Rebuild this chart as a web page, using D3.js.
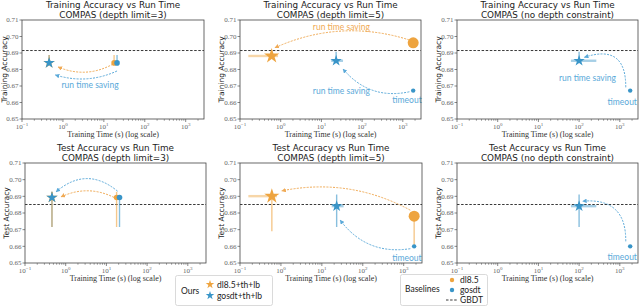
<!DOCTYPE html>
<html>
<head>
<meta charset="utf-8">
<script src="https://cdn.jsdelivr.net/npm/d3@7"></script>
<style>
  body { margin: 0; background: #fff; }
  svg { display: block; }
</style>
</head>
<body>
<svg id="chart" width="640" height="306"></svg>
<script>

// DATA ––––––––––––––––––––––––––––––––––––––––––––––––––––––––––––––

var xTickValues = [0.1, 1, 10, 100, 1000];
var xTickExponents = ["\u22121", "0", "1", "2", "3"];
var yTickValues = [0.65, 0.66, 0.67, 0.68, 0.69, 0.70, 0.71];

var rowTitles = ["Training Accuracy vs Run Time", "Test Accuracy vs Run Time"];
var colSubtitles = ["COMPAS (depth limit=3)", "COMPAS (depth limit=5)", "COMPAS (no depth constraint)"];
var rowYLabels = ["Training Accuracy", "Test Accuracy"];
var xLabel = "Training Time (s) (log scale)";

// GBDT reference accuracy, [train, test]
var gbdtAccuracy = [0.6915, 0.6851];

// [method, time (s), accuracy, accLow, accHigh, timeLow, timeHigh]
var trainDepth3 = [
  ["dl8.5+th+lb", 0.46, 0.684, 0.684, 0.6888, null, null],
  ["gosdt+th+lb", 0.46, 0.684, 0.684, 0.6888, null, null],
  ["dl8.5", 17.8, 0.684, 0.684, 0.6888, null, null],
  ["gosdt", 21, 0.684, 0.684, 0.6888, null, null]
];
var trainDepth5 = [
  ["dl8.5+th+lb", 0.6, 0.6882, null, null, 0.16, 0.86],
  ["dl8.5", 1800, 0.6962, null, null, null, null],
  ["gosdt+th+lb", 23, 0.6853, 0.6853, 0.6908, 17.4, 34],
  ["gosdt", 1800, 0.6672, null, null, null, null]
];
var trainNoDepth = [
  ["gosdt+th+lb", 100, 0.6853, 0.6853, 0.6908, 63, 265],
  ["gosdt", 1800, 0.6672, null, null, null, null]
];
var testDepth3 = [
  ["dl8.5+th+lb", 0.46, 0.6893, 0.6716, 0.6927, null, null],
  ["gosdt+th+lb", 0.46, 0.6893, 0.6716, 0.6927, null, null],
  ["dl8.5", 17.8, 0.6893, 0.6716, 0.6927, null, null],
  ["gosdt", 21, 0.6893, 0.6716, 0.6907, null, null]
];
var testDepth5 = [
  ["dl8.5+th+lb", 0.6, 0.6901, 0.669, 0.6901, 0.16, 0.8],
  ["dl8.5", 1800, 0.6781, 0.66, 0.6781, null, null],
  ["gosdt+th+lb", 23, 0.6841, 0.6716, 0.6911, 17.4, 34],
  ["gosdt", 1800, 0.66, null, null, null, null]
];
var testNoDepth = [
  ["gosdt+th+lb", 100, 0.6841, 0.6716, 0.6911, 63, 265],
  ["gosdt", 1800, 0.66, null, null, null, null]
];

// run time saving arrows: [family, fromTime, fromAcc, toTime, toAcc]
var trainDepth3Arrows = [["dl8.5", 16.8, 0.6833, 0.76, 0.6815], ["gosdt", 21, 0.6791, 0.65, 0.6767]];
var trainDepth5Arrows = [["dl8.5", 1450, 0.6979, 0.72, 0.6932], ["gosdt", 1450, 0.6665, 34, 0.6803]];
var trainNoDepthArrows = [["gosdt", 1400, 0.6692, 135, 0.6874]];
var testDepth3Arrows = [["gosdt", 18.8, 0.6931, 0.58, 0.6927], ["dl8.5", 15.5, 0.6893, 0.77, 0.6897]];
var testDepth5Arrows = [["dl8.5", 1450, 0.6817, 1.05, 0.6933], ["gosdt", 1450, 0.6586, 28, 0.6757]];
var testNoDepthArrows = [["gosdt", 1400, 0.663, 122, 0.6871]];

// text notes: [family, time, acc, text]
var trainDepth3Notes = [["gosdt", 4.6, 0.6706, "run time saving"]];
var trainDepth5Notes = [["dl8.5", 31, 0.7059, "run time saving"], ["gosdt", 31, 0.6672, "run time saving"], ["gosdt", 1270, 0.6615, "timeout"]];
var trainNoDepthNotes = [["gosdt", 160, 0.6747, "run time saving"], ["gosdt", 1150, 0.6605, "timeout"]];
var testDepth3Notes = [];
var testDepth5Notes = [["gosdt", 1200, 0.6532, "timeout"]];
var testNoDepthNotes = [["gosdt", 1150, 0.6536, "timeout"]];

var oursLabels = ["dl8.5+th+lb", "gosdt+th+lb"];
var baselineLabels = ["dl8.5", "gosdt", "GBDT"];


// LAYOUT / STYLE ––––––––––––––––––––––––––––––––––––––––––––––––––––

var orange = "#eea43f", blue = "#3995c8";
var arrowColor = {"dl8.5": "#f0aa55", "gosdt": "#5aa9d9"};
var familyOf = function(m) { return m.indexOf("dl8.5") === 0 ? "dl8.5" : "gosdt"; };
var colorOf = function(m) { return familyOf(m) === "dl8.5" ? orange : blue; };

var panels = [
  {row: 0, col: 0, x0: 22, x1: 204, points: trainDepth3, arrows: trainDepth3Arrows, notes: trainDepth3Notes, bends: [0.24, 0.19]},
  {row: 0, col: 1, x0: 240, x1: 421, points: trainDepth5, arrows: trainDepth5Arrows, notes: trainDepth5Notes, bends: [-0.19, 0.3]},
  {row: 0, col: 2, x0: 457, x1: 638, points: trainNoDepth, arrows: trainNoDepthArrows, notes: trainNoDepthNotes, bends: [-0.7]},
  {row: 1, col: 0, x0: 25, x1: 206, points: testDepth3, arrows: testDepth3Arrows, notes: testDepth3Notes, bends: [-0.42, -0.24]},
  {row: 1, col: 1, x0: 240, x1: 422, points: testDepth5, arrows: testDepth5Arrows, notes: testDepth5Notes, bends: [-0.18, 0.3]},
  {row: 1, col: 2, x0: 457, x1: 638, points: testNoDepth, arrows: testNoDepthArrows, notes: testNoDepthNotes, bends: [-0.55]}
];
var rowY = [{y0: 20, y1: 119}, {y0: 163, y1: 263}];

// marker radius by column
var markerRadius = function(col, row, m) {
  if (m === "dl8.5+th+lb") return col === 1 ? 8 : 6;
  if (m === "gosdt+th+lb") return 6;
  if (m === "dl8.5") return col === 1 ? 5.5 : 2.8;
  return col === 0 ? 2.8 : 2.2;
};

var starPath = function(r) { return d3.symbol(d3.symbolStar, r * r / 0.8908130915292852)(); };

var svg = d3.select("#chart");
var defs = svg.append("defs");
["dl8.5", "gosdt"].forEach(function(f) {
  defs.append("marker")
      .attr("id", "head-" + f.replace(".", ""))
      .attr("viewBox", "0 0 10 10")
      .attr("refX", 9).attr("refY", 5)
      .attr("markerWidth", 4.5).attr("markerHeight", 4.5)
      .attr("markerUnits", "userSpaceOnUse")
      .attr("orient", "auto")
    .append("path")
      .attr("d", "M0,0L10,5L0,10z")
      .attr("fill", arrowColor[f]);
});

var minorTicks = [];
for (var e = -1; e <= 3; e++) {
  for (var k = 2; k <= 9; k++) {
    if (k * Math.pow(10, e) < 2800) minorTicks.push(k * Math.pow(10, e));
  }
}

var tickFont = "'Liberation Serif', 'DejaVu Serif', serif";
var sansFont = "'DejaVu Sans', sans-serif";
var noteFont = "Lato, 'Open Sans', sans-serif";

panels.forEach(function(p) {
  var ry = rowY[p.row];
  var x = d3.scaleLog().domain([0.1, 2800]).range([p.x0, p.x1]);
  var y = d3.scaleLinear().domain([0.65, 0.71]).range([ry.y1, ry.y0]);
  var g = svg.append("g");

  // titles
  var cx = (p.x0 + p.x1) / 2;
  g.append("text").attr("x", cx).attr("y", ry.y0 - 11.6)
      .attr("text-anchor", "middle").style("font-family", sansFont).style("font-size", "8.8px")
      .attr("fill", "#222").text(rowTitles[p.row]);
  g.append("text").attr("x", cx).attr("y", ry.y0 - 2.2)
      .attr("text-anchor", "middle").style("font-family", sansFont).style("font-size", "8.8px")
      .attr("fill", "#222").text(colSubtitles[p.col]);

  // axes
  var xAxis = g.append("g").attr("transform", "translate(0," + ry.y1 + ")");
  xAxis.selectAll("line.minor").data(minorTicks).enter().append("line")
      .attr("x1", function(d) { return x(d); }).attr("x2", function(d) { return x(d); })
      .attr("y1", 0).attr("y2", 1.8).attr("stroke", "#666").attr("stroke-width", 0.6);
  xAxis.selectAll("line.major").data(xTickValues).enter().append("line")
      .attr("x1", function(d) { return x(d); }).attr("x2", function(d) { return x(d); })
      .attr("y1", 0).attr("y2", 3).attr("stroke", "#555").attr("stroke-width", 0.7);
  var xt = xAxis.selectAll("text.tick").data(xTickValues).enter().append("text")
      .attr("x", function(d) { return x(d); }).attr("y", 9.5)
      .attr("text-anchor", "middle").style("font-family", tickFont).style("font-size", "7px")
      .attr("fill", "#666");
  xt.append("tspan").text("10");
  xt.append("tspan").attr("dy", -3).style("font-size", "5px").text(function(d, i) { return xTickExponents[i]; });

  var yAxis = g.append("g").attr("transform", "translate(" + p.x0 + ",0)");
  yAxis.selectAll("line").data(yTickValues).enter().append("line")
      .attr("x1", -2.5).attr("x2", 0)
      .attr("y1", function(d) { return y(d); }).attr("y2", function(d) { return y(d); })
      .attr("stroke", "#555").attr("stroke-width", 0.7);
  yAxis.selectAll("text").data(yTickValues).enter().append("text")
      .attr("x", -3.5).attr("y", function(d) { return y(d) + 2.3; })
      .attr("text-anchor", "end").style("font-family", tickFont).style("font-size", "7px")
      .attr("fill", "#666").text(function(d) { return d3.format(".2f")(d); });

  g.append("text")
      .attr("transform", "translate(" + Math.max(p.x0 - 16.5, 7) + "," + ((ry.y0 + ry.y1) / 2) + ") rotate(-90)")
      .attr("text-anchor", "middle").style("font-family", sansFont).style("font-size", "7.5px")
      .attr("fill", "#222").text(rowYLabels[p.row]);
  g.append("text").attr("x", cx).attr("y", ry.y1 + 17.5)
      .attr("text-anchor", "middle").style("font-family", tickFont).style("font-size", "8px")
      .attr("fill", "#333").text(xLabel);

  // GBDT line
  g.append("line").attr("x1", p.x0).attr("x2", p.x1)
      .attr("y1", y(gbdtAccuracy[p.row])).attr("y2", y(gbdtAccuracy[p.row]))
      .attr("stroke", "#222").attr("stroke-width", 0.9).attr("stroke-dasharray", "2.5,1.6");

  // error bars (blue first, orange on top)
  var sorted = p.points.slice().sort(function(a, b) {
    return familyOf(a[0]) === familyOf(b[0]) ? 0 : (familyOf(a[0]) === "gosdt" ? -1 : 1);
  });
  sorted.forEach(function(d) {
    if (d[5] !== null) {
      g.append("line").attr("x1", x(d[5])).attr("x2", x(d[6]))
          .attr("y1", y(d[2])).attr("y2", y(d[2]))
          .attr("stroke", colorOf(d[0])).attr("stroke-opacity", 0.45).attr("stroke-width", 2.4);
    }
    if (d[3] !== null) {
      g.append("line").attr("x1", x(d[1])).attr("x2", x(d[1]))
          .attr("y1", y(d[3])).attr("y2", y(d[4]))
          .attr("stroke", colorOf(d[0])).attr("stroke-opacity", 0.6).attr("stroke-width", 1.4);
    }
  });

  // arrows
  p.arrows.forEach(function(a, i) {
    var x1 = x(a[1]), y1 = y(a[2]), x2 = x(a[3]), y2 = y(a[4]);
    var mx = (x1 + x2) / 2, my = (y1 + y2) / 2, r = p.bends[i];
    var cx1 = mx + r * (y2 - y1), cy1 = my - r * (x2 - x1);
    g.append("path")
        .attr("d", "M" + x1 + "," + y1 + "Q" + cx1 + "," + cy1 + " " + x2 + "," + y2)
        .attr("fill", "none").attr("stroke", arrowColor[a[0]]).attr("stroke-width", 1)
        .attr("stroke-dasharray", "2,1.3")
        .attr("marker-end", "url(#head-" + a[0].replace(".", "") + ")");
  });

  // markers: orange first, blue on top
  var order = p.points.slice().sort(function(a, b) {
    return familyOf(a[0]) === familyOf(b[0]) ? 0 : (familyOf(a[0]) === "dl8.5" ? -1 : 1);
  });
  order.forEach(function(d) {
    var rr = markerRadius(p.col, p.row, d[0]);
    if (d[0].indexOf("+th+lb") > 0) {
      g.append("path").attr("d", starPath(rr))
          .attr("transform", "translate(" + x(d[1]) + "," + y(d[2]) + ")")
          .attr("fill", colorOf(d[0]));
    } else {
      g.append("circle").attr("cx", x(d[1])).attr("cy", y(d[2])).attr("r", rr)
          .attr("fill", colorOf(d[0]));
    }
  });

  // notes
  p.notes.forEach(function(n) {
    g.append("text").attr("x", x(n[1])).attr("y", y(n[2]) + 3)
        .attr("text-anchor", "middle").style("font-family", noteFont).style("font-size", "8.5px")
        .style("fill", arrowColor[n[0]]).text(n[3]);
  });

  // frame
  g.append("rect").attr("x", p.x0).attr("y", ry.y0)
      .attr("width", p.x1 - p.x0).attr("height", ry.y1 - ry.y0)
      .attr("fill", "none").attr("stroke", "#444").attr("stroke-width", 0.8);
});


// LEGENDS ––––––––––––––––––––––––––––––––––––––––––––––––––––––––––––

var leg1 = svg.append("g");
leg1.append("rect").attr("x", 175.5).attr("y", 275.5).attr("width", 97).attr("height", 30)
    .attr("rx", 2).attr("fill", "#fff").attr("stroke", "#d0d0d0").attr("stroke-width", 0.8);
leg1.append("text").attr("x", 181).attr("y", 294).style("font-family", noteFont).style("font-size", "8.5px")
    .attr("fill", "#222").text("Ours");
oursLabels.forEach(function(l, i) {
  leg1.append("path").attr("d", starPath(4.5))
      .attr("transform", "translate(210," + (284.5 + i * 11) + ")").attr("fill", colorOf(l));
  leg1.append("text").attr("x", 217).attr("y", 287.5 + i * 11).style("font-family", noteFont)
      .style("font-size", "8.5px").attr("fill", "#222").text(l);
});

var leg2 = svg.append("g");
leg2.append("rect").attr("x", 400.5).attr("y", 274.5).attr("width", 87).attr("height", 31)
    .attr("rx", 2).attr("fill", "#fff").attr("stroke", "#d0d0d0").attr("stroke-width", 0.8);
leg2.append("text").attr("x", 405).attr("y", 292).style("font-family", noteFont).style("font-size", "8.5px")
    .attr("fill", "#222").text("Baselines");
baselineLabels.forEach(function(l, i) {
  var ly = 280 + i * 10;
  if (l === "GBDT") {
    leg2.append("line").attr("x1", 446).attr("x2", 457).attr("y1", ly).attr("y2", ly)
        .attr("stroke", "#222").attr("stroke-width", 0.9).attr("stroke-dasharray", "2.5,1.6");
  } else {
    leg2.append("circle").attr("cx", 452).attr("cy", ly).attr("r", 2.2).attr("fill", colorOf(l));
  }
  leg2.append("text").attr("x", 460).attr("y", ly + 3).style("font-family", noteFont)
      .style("font-size", "8.5px").attr("fill", "#222").text(l);
});

</script>
</body>
</html>
